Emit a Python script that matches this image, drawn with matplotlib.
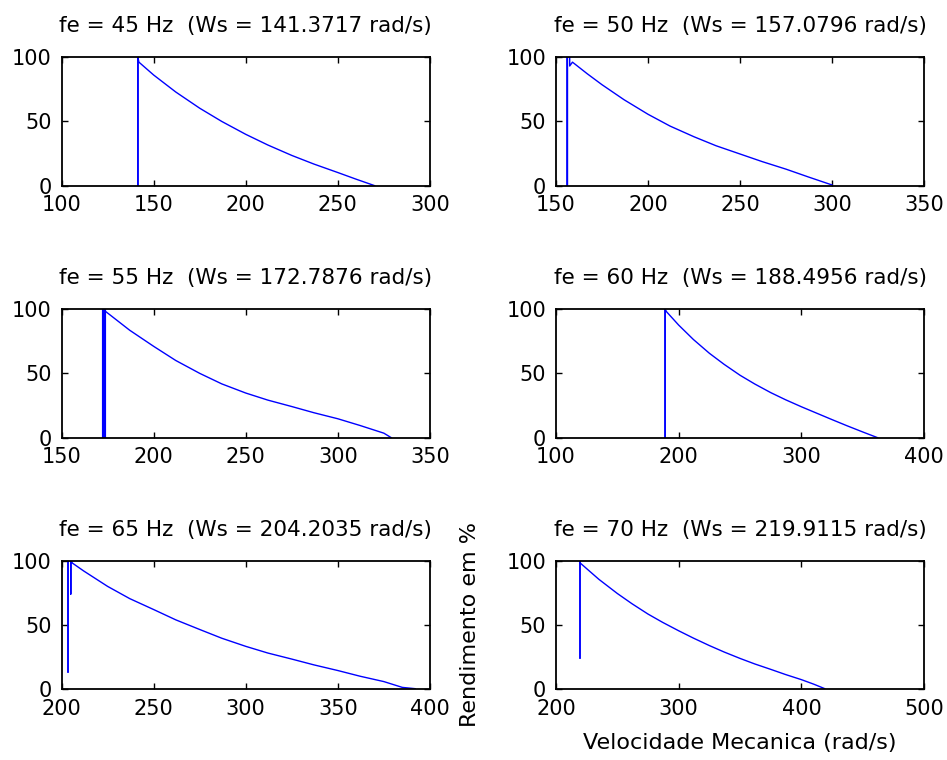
import matplotlib
matplotlib.use("Agg")
from matplotlib import pyplot as plt

# supply frequency and synchronous speed of each run
fe = [45, 50, 55, 60, 65, 70]
ws = [141.3717, 157.0796, 172.7876, 188.4956, 204.2035, 219.9115]
xlims = [(100, 300), (150, 350), (150, 350), (100, 400), (200, 400), (200, 500)]
xticks = [[100, 150, 200, 250, 300],
          [150, 200, 250, 300, 350],
          [150, 200, 250, 300, 350],
          [100, 200, 300, 400],
          [200, 250, 300, 350, 400],
          [200, 300, 400, 500]]

# efficiency (%) vs mechanical speed (rad/s)
speed_45 = [141.4, 141.4, 142, 150, 162, 175, 187, 200, 212, 225, 237, 250, 260, 270]
eff_45 = [0, 100, 96, 86, 72.8, 60.2, 49.9, 39.9, 31.6, 23.5, 16.8, 10.2, 5, 0]
speed_50 = [156.3, 156.3, 157.5, 157.5, 159, 167, 175, 187, 200, 212, 225, 237, 250, 262, 275, 287, 300]
eff_50 = [0, 100, 100, 93, 96, 87, 78.5, 66.8, 55.5, 46.3, 38, 31, 24.6, 18.7, 12.8, 6.8, 0.5]
speed_55 = [172.8, 172.8, 174, 187, 200, 212, 225, 237, 250, 262, 275, 287, 300, 312, 325, 329]
eff_55 = [0, 100, 98, 83.5, 71, 60, 50, 41.8, 34.7, 29.2, 24.2, 19.4, 14.7, 9.5, 3.5, 0]
speed_60 = [189, 189, 190, 200, 212, 225, 237, 250, 262, 275, 287, 300, 312, 325, 337, 350, 362]
eff_60 = [0, 100, 98, 87.5, 76.3, 65.6, 57, 48.5, 41.7, 35, 29.5, 24, 19.2, 14, 9.3, 4.4, 0]
speed_65 = [203.5, 203.5, 205, 205, 205, 206, 212, 225, 237, 250, 262, 275, 287, 300, 312, 325, 337, 350, 362, 375, 385, 392]
eff_65 = [13.5, 100, 100, 74, 100, 98, 92, 80, 70.5, 62, 54, 46.5, 39.7, 33.4, 28.2, 23.5, 19, 14.6, 10.2, 6, 1.5, 0.5]
speed_70 = [219.6, 219.6, 220, 235, 250, 262, 275, 287, 300, 312, 325, 337, 350, 362, 375, 387, 400, 410, 419]
eff_70 = [24.3, 100, 98, 85.5, 74.5, 66.5, 58.5, 52, 45.5, 39.8, 34, 29, 24, 19.7, 15.5, 11.5, 7.5, 4, 0.5]

speeds = [speed_45, speed_50, speed_55, speed_60, speed_65, speed_70]
effs = [eff_45, eff_50, eff_55, eff_60, eff_65, eff_70]

plt.rcParams['font.family'] = ['DejaVu Sans']

fig = plt.figure(figsize=(9.47, 7.6), dpi=100)
lefts = [0.065, 0.587]
bottoms = [0.7557, 0.4241, 0.0930]
w, h = 0.389, 0.1693

for i in range(6):
    ax = fig.add_axes([lefts[i % 2], bottoms[i // 2], w, h])
    lw = 3.0 if i == 2 else 1.2
    ax.plot(speeds[i], effs[i], color=(0, 0, 1), linewidth=1.0)
    # the start-up segment at synchronous speed
    ax.plot(speeds[i][:2], effs[i][:2], color=(0, 0, 1), linewidth=lw)
    ax.set_xlim(*xlims[i])
    ax.set_ylim(0, 100)
    ax.set_xticks(xticks[i])
    ax.set_yticks([0, 50, 100])
    ax.tick_params(direction='in', length=4, width=1, top=True, right=True,
                   labelsize=15, colors='black')
    ax.tick_params(axis='x', pad=7)
    ax.tick_params(axis='y', pad=7)
    for s in ax.spines.values():
        s.set_linewidth(1.3)
    ax.set_title("fe = %d Hz  (Ws = %.4f rad/s)" % (fe[i], ws[i]), fontsize=15.5, pad=18)

ax.set_xlabel("Velocidade Mecanica (rad/s)", fontsize=16)
ax.set_ylabel("Rendimento em %", fontsize=16)
ax.xaxis.set_label_coords(0.5, -0.34)
ax.yaxis.set_label_coords(-0.205, 0.5)

fig.savefig("out.png", dpi=100)
